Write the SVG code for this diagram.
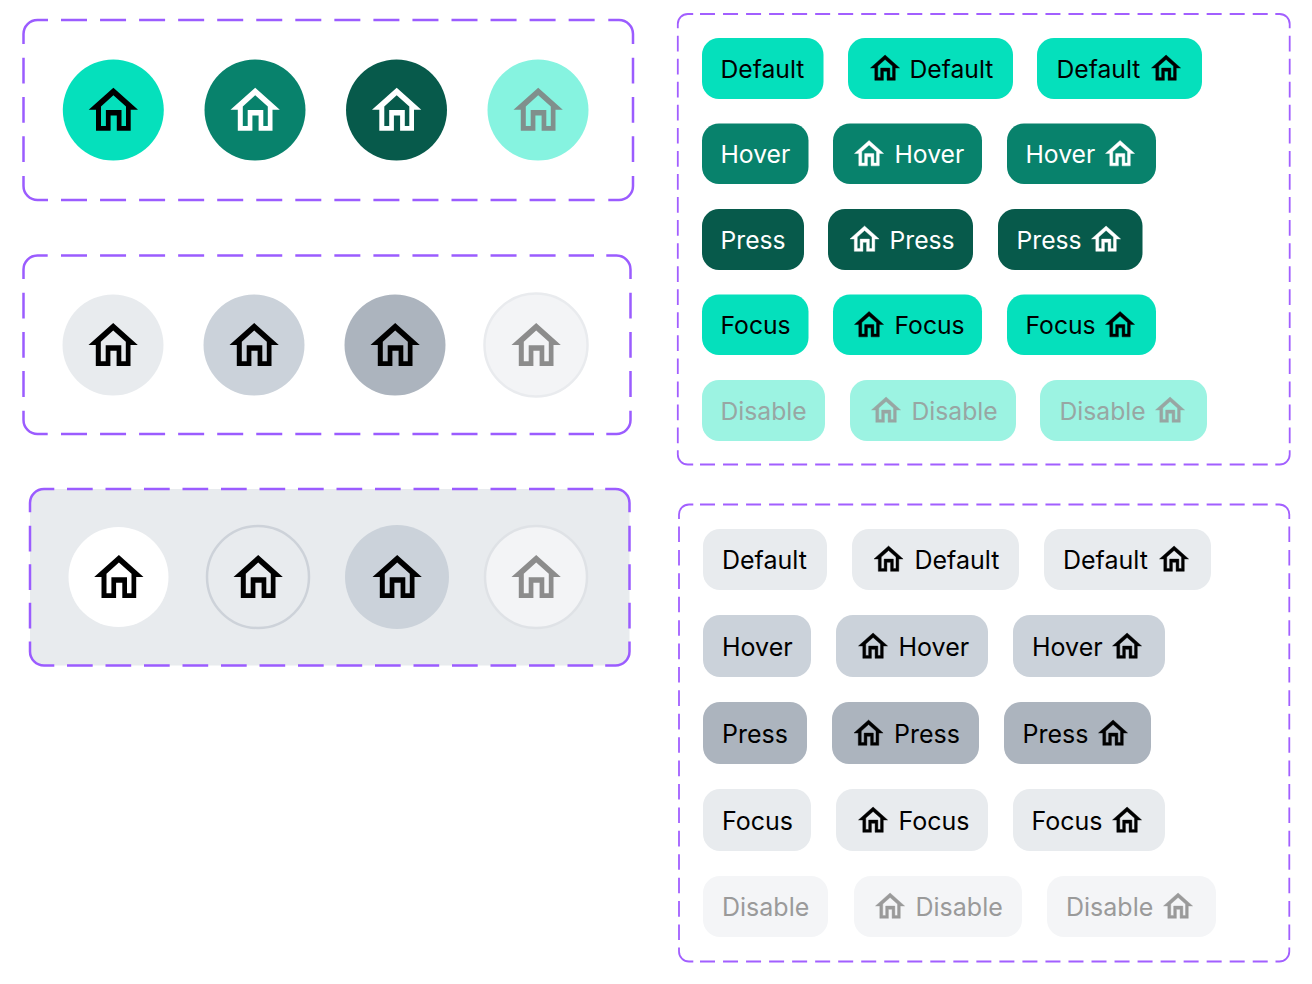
<svg xmlns="http://www.w3.org/2000/svg" width="1312" height="984" viewBox="0 0 1312 984">
<style>
text{font-family:Inter,"Liberation Sans",sans-serif;font-size:25px;stroke:none!important}
.tp text{font-size:24.7px}
.L{fill:none;stroke:#9b5cff;stroke-width:2.5}
.R{fill:none;stroke:#a25fff;stroke-width:1.8}
.sm{stroke-width:.7}
.k{fill:#000;stroke:#000}.w{fill:#fff;stroke:#fff}.g{fill:#8c8c8c}.dm{fill:#98a6a3;stroke:#98a6a3}.dg{fill:#9a9a9a;stroke:#9a9a9a}
.b0{fill:#05e0bc}.b1{fill:#08826c}.b2{fill:#075a4b}.b4{fill:#9cf3e2}
.c0{fill:#e8ebee}.c1{fill:#cbd2da}.c2{fill:#acb4be}.c4{fill:#f4f5f7}
</style>
<defs>
<path id="home" fill-rule="evenodd" d="M24.7 0L49.3 22H42V43H28.100V27.700H21.900V43H7.300V22H0ZM24.700 7.500L12.300 18.800V38.200H17.200V22.200H32.800V38.200H37.300V18.800Z"/>
</defs>
<g id="panel-circles-teal">
<g class="L">
<path d="M48 20H37.500A14 14 0 0 0 23.500 34V44M608.300 20H619A14 14 0 0 1 633 34V44M23.500 176V186A14 14 0 0 0 37.500 200H48M633 176V186A14 14 0 0 1 619 200H608.300"/>
<path stroke-dasharray="26 13.050" d="M61 20H595M61 200H595"/>
<path stroke-dasharray="25.800 13.500" d="M23.500 57.700V162.300M633 57.700V162.300"/>
</g>
<g id="c1"><circle class="b0" cx="113.300" cy="110" r="50.500"/><use href="#home" class="k" stroke-width="0" x="88.700" y="87.700"/></g>
<g id="c2"><circle class="b1" cx="255" cy="110" r="50.500"/><use href="#home" class="w" stroke-width="0" x="230.500" y="87.700"/></g>
<g id="c3"><circle class="b2" cx="396.500" cy="110" r="50.500"/><use href="#home" class="w" stroke-width="0" x="372" y="87.700"/></g>
<g id="c4"><circle fill="#86f3e0" cx="538" cy="110" r="50.500"/><use href="#home" fill="#808f8c" x="513.500" y="87.700"/></g>
</g>
<g id="panel-circles-gray">
<g class="L">
<path d="M47.700 255.500H37.500A14 14 0 0 0 23.500 269.500V279M606.300 255.500H616.500A14 14 0 0 1 630.500 269.500V279M23.500 410.700V420A14 14 0 0 0 37.500 434H47.700M630.500 410.700V420A14 14 0 0 1 616.500 434H606.300"/>
<path stroke-dasharray="26 13.050" d="M61 255.500H594M61 434H594"/>
<path stroke-dasharray="25.800 13.400" d="M23.500 292.700V397M630.500 292.700V397"/>
</g>
<g id="c5"><circle class="c0" cx="113" cy="345" r="50.500"/><use href="#home" class="k" stroke-width="0" x="88.500" y="323"/></g>
<g id="c6"><circle class="c1" cx="254" cy="345" r="50.500"/><use href="#home" class="k" stroke-width="0" x="229.500" y="323"/></g>
<g id="c7"><circle class="c2" cx="395" cy="345" r="50.500"/><use href="#home" class="k" stroke-width="0" x="370.500" y="323"/></g>
<g id="c8"><circle fill="#f3f4f6" stroke="#e9ebee" stroke-width="2.500" cx="536" cy="345" r="51.500"/><use href="#home" class="g" x="511.500" y="323"/></g>
</g>
<g id="panel-circles-dark">
<rect x="30" y="489" width="599.500" height="176.500" rx="14" fill="#e8ebee"/>
<g class="L">
<path d="M54.300 489H44A14 14 0 0 0 30 503V512.300M605.200 489H615.500A14 14 0 0 1 629.500 503V512.300M30 641.500V651.500A14 14 0 0 0 44 665.500H54.300M629.500 641.500V651.500A14 14 0 0 1 615.500 665.500H605.200"/>
<path stroke-dasharray="25.700 12.800" d="M67 489H593.200M67 665.500H593.200"/>
<path stroke-dasharray="25.700 12.800" d="M30 525.700V628.400M629.500 525.700V628.400"/>
</g>
<g id="c9"><circle fill="#fff" cx="118.500" cy="577" r="50"/><use href="#home" class="k" stroke-width="0" x="94.200" y="555"/></g>
<g id="c10"><circle fill="none" stroke="#cdd2d9" stroke-width="2.500" cx="258" cy="577" r="51"/><use href="#home" class="k" stroke-width="0" x="233.500" y="555"/></g>
<g id="c11"><circle class="c1" cx="397" cy="577" r="52"/><use href="#home" class="k" stroke-width="0" x="372.500" y="555"/></g>
<g id="c12"><circle fill="#f3f4f6" stroke="#dfe2e6" stroke-width="2.500" cx="536" cy="577" r="51"/><use href="#home" class="g" x="511.500" y="555"/></g>
</g>
<g id="panel-buttons-teal" class="tp">
<g class="R">
<path d="M693.200 14H687.800A10 10 0 0 0 677.800 24V28.300M1275.300 14H1279.700A10 10 0 0 1 1289.700 24V28.300M677.800 450.300V454.500A10 10 0 0 0 687.800 464.500H693.200M1289.700 450.300V454.500A10 10 0 0 1 1279.700 464.500H1275.300"/>
<path stroke-dasharray="15 8.030" d="M700 14H1268M700 464.500H1268"/>
<path stroke-dasharray="15.700 7.350" d="M677.800 35.700V443.300M1289.700 35.700V443.300"/>
</g>
<g id="t1"><rect class="b0" x="702" y="38" width="121.500" height="61" rx="17"/><text class="k" x="720.500" y="78">Default</text></g>
<g id="t2"><rect class="b0" x="848" y="38" width="165" height="61" rx="17"/><use href="#home" class="k sm" transform="translate(870.500 55) scale(.59)"/><text class="k" x="909.500" y="78">Default</text></g>
<g id="t3"><rect class="b0" x="1037" y="38" width="165" height="61" rx="17"/><text class="k" x="1056.500" y="78">Default</text><use href="#home" class="k sm" transform="translate(1151.500 55) scale(.59)"/></g>
<g id="t4"><rect class="b1" x="702" y="123.500" width="106.500" height="60.500" rx="17"/><text class="w" x="720.500" y="163">Hover</text></g>
<g id="t5"><rect class="b1" x="833" y="123.500" width="149" height="60.500" rx="17"/><use href="#home" class="w sm" transform="translate(854.500 140.500) scale(.59)"/><text class="w" x="894.500" y="163">Hover</text></g>
<g id="t6"><rect class="b1" x="1007" y="123.500" width="149" height="60.500" rx="17"/><text class="w" x="1025.500" y="163">Hover</text><use href="#home" class="w sm" transform="translate(1105.500 140.500) scale(.59)"/></g>
<g id="t7"><rect class="b2" x="702" y="209" width="102" height="61" rx="17"/><text class="w" x="720.500" y="249">Press</text></g>
<g id="t8"><rect class="b2" x="828" y="209" width="145" height="61" rx="17"/><use href="#home" class="w sm" transform="translate(850 226) scale(.59)"/><text class="w" x="889.500" y="249">Press</text></g>
<g id="t9"><rect class="b2" x="998" y="209" width="144.500" height="61" rx="17"/><text class="w" x="1016.500" y="249">Press</text><use href="#home" class="w sm" transform="translate(1091.500 226) scale(.59)"/></g>
<g id="t10"><rect class="b0" x="702" y="294.500" width="106.500" height="60.500" rx="17"/><text class="k" x="720.500" y="334">Focus</text></g>
<g id="t11"><rect class="b0" x="833" y="294.500" width="149" height="60.500" rx="17"/><use href="#home" class="k sm" transform="translate(854.500 311.500) scale(.59)"/><text class="k" x="894.500" y="334">Focus</text></g>
<g id="t12"><rect class="b0" x="1007" y="294.500" width="149" height="60.500" rx="17"/><text class="k" x="1025.500" y="334">Focus</text><use href="#home" class="k sm" transform="translate(1105.500 311.500) scale(.59)"/></g>
<g id="t13"><rect class="b4" x="702" y="380" width="123" height="61" rx="17"/><text class="dm" x="720.500" y="420">Disable</text></g>
<g id="t14"><rect class="b4" x="850" y="380" width="166" height="61" rx="17"/><use href="#home" class="dm sm" transform="translate(871.500 397) scale(.59)"/><text class="dm" x="911.500" y="420">Disable</text></g>
<g id="t15"><rect class="b4" x="1040" y="380" width="167" height="61" rx="17"/><text class="dm" x="1059.500" y="420">Disable</text><use href="#home" class="dm sm" transform="translate(1155.500 397) scale(.59)"/></g>
</g>
<g id="panel-buttons-gray">
<g class="R">
<path d="M693.300 504.500H689A10 10 0 0 0 679 514.500V519M1275.500 504.500H1279.300A10 10 0 0 1 1289.300 514.500V519M679 947.400V951.500A10 10 0 0 0 689 961.500H693.300M1289.300 947.400V951.500A10 10 0 0 1 1279.300 961.500H1275.500"/>
<path stroke-dasharray="15 8.030" d="M700 504.500H1268M700 961.500H1268"/>
<path stroke-dasharray="15.600 7.810" d="M679 526.500V940M1289.300 526.500V940"/>
</g>
<g id="g1"><rect class="c0" x="703" y="529" width="124" height="61" rx="17"/><text class="k" x="722" y="569">Default</text></g>
<g id="g2"><rect class="c0" x="852" y="529" width="167" height="61" rx="17"/><use href="#home" class="k sm" transform="translate(874 546) scale(.59)"/><text class="k" x="914.500" y="569">Default</text></g>
<g id="g3"><rect class="c0" x="1044" y="529" width="167" height="61" rx="17"/><text class="k" x="1063" y="569">Default</text><use href="#home" class="k sm" transform="translate(1159.500 546) scale(.59)"/></g>
<g id="g4"><rect class="c1" x="703" y="615" width="108" height="62" rx="17"/><text class="k" x="722" y="656">Hover</text></g>
<g id="g5"><rect class="c1" x="836" y="615" width="152" height="62" rx="17"/><use href="#home" class="k sm" transform="translate(858.500 633) scale(.59)"/><text class="k" x="898.500" y="656">Hover</text></g>
<g id="g6"><rect class="c1" x="1013" y="615" width="152" height="62" rx="17"/><text class="k" x="1032" y="656">Hover</text><use href="#home" class="k sm" transform="translate(1112.500 633) scale(.59)"/></g>
<g id="g7"><rect class="c2" x="703" y="702" width="104" height="62" rx="17"/><text class="k" x="722" y="743">Press</text></g>
<g id="g8"><rect class="c2" x="832" y="702" width="147" height="62" rx="17"/><use href="#home" class="k sm" transform="translate(854 720) scale(.59)"/><text class="k" x="894" y="743">Press</text></g>
<g id="g9"><rect class="c2" x="1004" y="702" width="147" height="62" rx="17"/><text class="k" x="1022.500" y="743">Press</text><use href="#home" class="k sm" transform="translate(1098.500 720) scale(.59)"/></g>
<g id="g10"><rect class="c0" x="703" y="789" width="108" height="62" rx="17"/><text class="k" x="722" y="830">Focus</text></g>
<g id="g11"><rect class="c0" x="836" y="789" width="152" height="62" rx="17"/><use href="#home" class="k sm" transform="translate(858.500 807) scale(.59)"/><text class="k" x="898.500" y="830">Focus</text></g>
<g id="g12"><rect class="c0" x="1013" y="789" width="152" height="62" rx="17"/><text class="k" x="1031.500" y="830">Focus</text><use href="#home" class="k sm" transform="translate(1112.500 807) scale(.59)"/></g>
<g id="g13"><rect class="c4" x="703" y="876" width="125" height="61" rx="17"/><text class="dg" x="722" y="916">Disable</text></g>
<g id="g14"><rect class="c4" x="854" y="876" width="168" height="61" rx="17"/><use href="#home" class="dg sm" transform="translate(875.500 893) scale(.59)"/><text class="dg" x="915.500" y="916">Disable</text></g>
<g id="g15"><rect class="c4" x="1047" y="876" width="169" height="61" rx="17"/><text class="dg" x="1066" y="916">Disable</text><use href="#home" class="dg sm" transform="translate(1163.500 893) scale(.59)"/></g>
</g>
</svg>
